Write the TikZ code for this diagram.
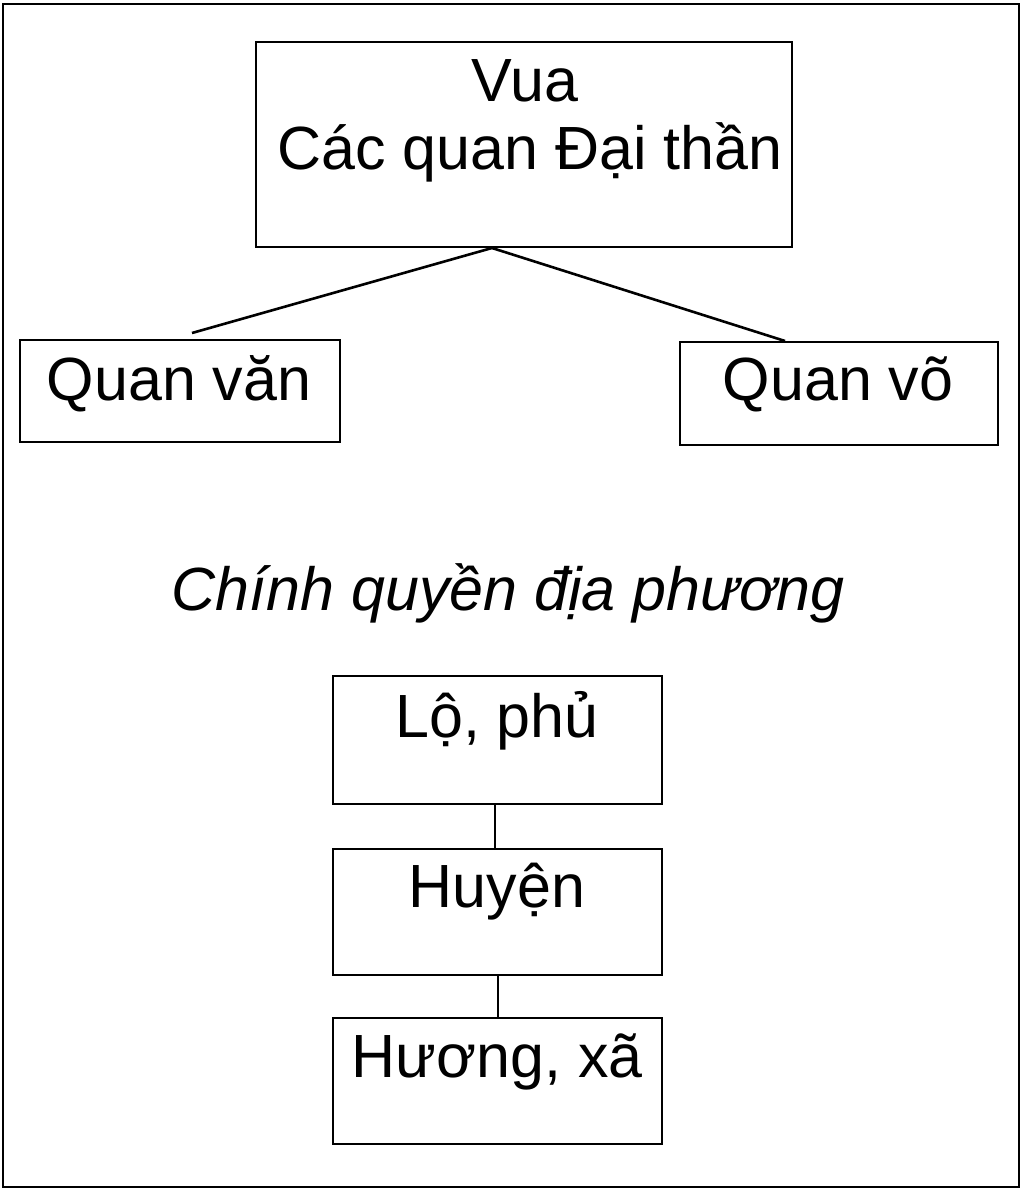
\documentclass[tikz,border=0pt]{standalone}
\usepackage{fontspec}
\setmainfont{Liberation Sans}
\begin{document}
\begin{tikzpicture}[x=1pt,y=-1pt,line width=2.6pt,
  box/.style={draw,inner sep=0pt},
  txt/.style={anchor=base,font=\fontsize{61}{63}\selectfont,inner sep=0pt}]
\useasboundingbox (0,0) rectangle (1024,1190);
\draw (3,4) rectangle (1019,1187);
\node[box,minimum width=536,minimum height=205] (top) at (524,144.5) {};
\node[box,minimum width=320,minimum height=102] (van) at (180,391) {};
\node[box,minimum width=318,minimum height=103] (vo) at (839,393.5) {};
\node[box,minimum width=329,minimum height=128] (lo) at (497.5,740) {};
\node[box,minimum width=329,minimum height=126] (huyen) at (497.5,912) {};
\node[box,minimum width=329,minimum height=126] (huong) at (497.5,1081) {};
\node[txt] at (525,102) {Vua};
\node[txt] at (530,170) {Các quan Đại thần};
\node[txt] at (179,400) {Quan văn};
\node[txt] at (838,400) {Quan võ};
\node[txt,font=\fontsize{61}{63}\selectfont\itshape] at (508,610) {Chính quyền địa phương};
\node[txt] at (497,737) {Lộ, phủ};
\node[txt] at (497,907) {Huyện};
\node[txt] at (497,1077) {Hương, xã};
\coordinate (t) at (492,248);
\coordinate (a) at (192,333);
\coordinate (b) at (785,341);
\draw (t) -- (a);
\draw (t) -- (b);
\draw (495,804) -- (495,849);
\draw (498,975) -- (498,1018);
\end{tikzpicture}
\end{document}
